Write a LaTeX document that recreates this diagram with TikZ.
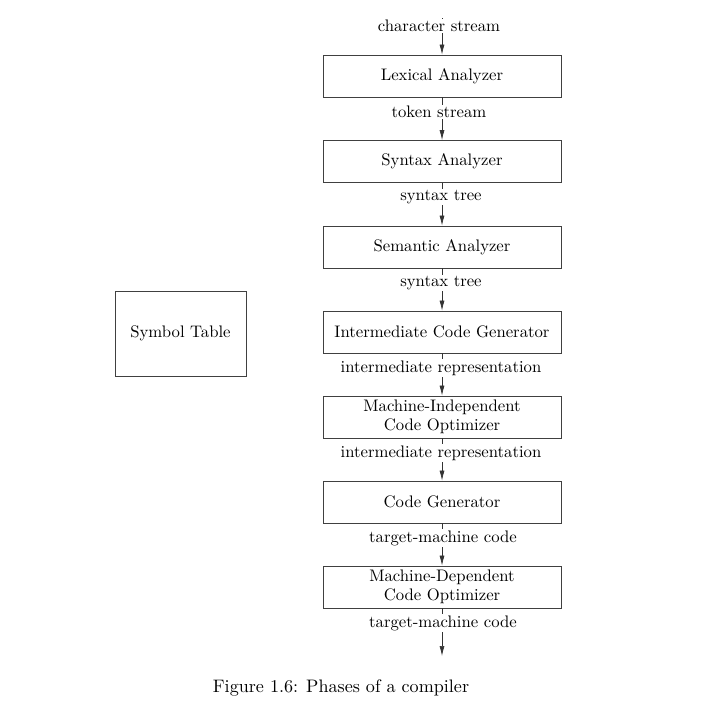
\documentclass[tikz,border=0pt]{standalone}
\usepackage{graphicx}
\usetikzlibrary{arrows.meta}
\newcommand{\sx}[1]{\scalebox{1.67}{#1}}
\newcommand{\sxx}[2]{\scalebox{1.67}{\begin{tabular}{@{}c@{}}#1\\[-0.6pt]#2\end{tabular}}}
\begin{document}
\begin{tikzpicture}[x=1pt,y=-1pt,font=\fontsize{10}{12}\selectfont,
  phase/.style={draw=black!75,line width=0.8pt,minimum width=238pt,minimum height=42pt,align=center,inner sep=0pt},
  lbl/.style={fill=white,inner sep=1.5pt},
  flow/.style={draw=black!80,line width=0.7pt,-{Latex[length=10pt,width=5pt]}}]
\useasboundingbox (0,0) rectangle (710,704);
\node[phase] (lex) at (442,76) {\sx{Lexical Analyzer}};
\node[phase] (syn) at (442,161.5) {\sx{Syntax Analyzer}};
\node[phase] (sem) at (442,247) {\sx{Semantic Analyzer}};
\node[phase] (icg) at (442,332) {\sx{Intermediate Code Generator}};
\node[phase] (mio) at (442,417) {\sxx{Machine-Independent}{Code Optimizer}};
\node[phase] (cg) at (442,502) {\sx{Code Generator}};
\node[phase] (mdo) at (442,587) {\sxx{Machine-Dependent}{Code Optimizer}};
\node[draw=black!75,line width=0.8pt,minimum width=131pt,minimum height=85pt,inner sep=0pt] (sym) at (180.5,333.5) {\sx{Symbol Table}};
\coordinate (in) at (442,18);
\coordinate (out) at (442,656);
\draw[flow] (in) -- (lex.north);
\draw[flow] (lex.south) -- (syn.north);
\draw[flow] (syn.south) -- (sem.north);
\draw[flow] (sem.south) -- (icg.north);
\draw[flow] (icg.south) -- (mio.north);
\draw[flow] (mio.south) -- (cg.north);
\draw[flow] (cg.south) -- (mdo.north);
\draw[flow] (mdo.south) -- (out);
\node[lbl] (l0) at (439,26) {\sx{character stream}};
\node[lbl] (l1) at (439,112) {\sx{token stream}};
\node[lbl] (l2) at (441,197) {\sx{syntax tree}};
\node[lbl] (l3) at (441,283) {\sx{syntax tree}};
\node[lbl] (l4) at (441,368) {\sx{intermediate representation}};
\node[lbl] (l5) at (441,453) {\sx{intermediate representation}};
\node[lbl] (l6) at (443,538) {\sx{target-machine code}};
\node[lbl] (l7) at (443,623) {\sx{target-machine code}};
\node[inner sep=0pt] (cap) at (341,688) {\scalebox{1.81}{Figure 1.6: Phases of a compiler}};
\end{tikzpicture}
\end{document}
